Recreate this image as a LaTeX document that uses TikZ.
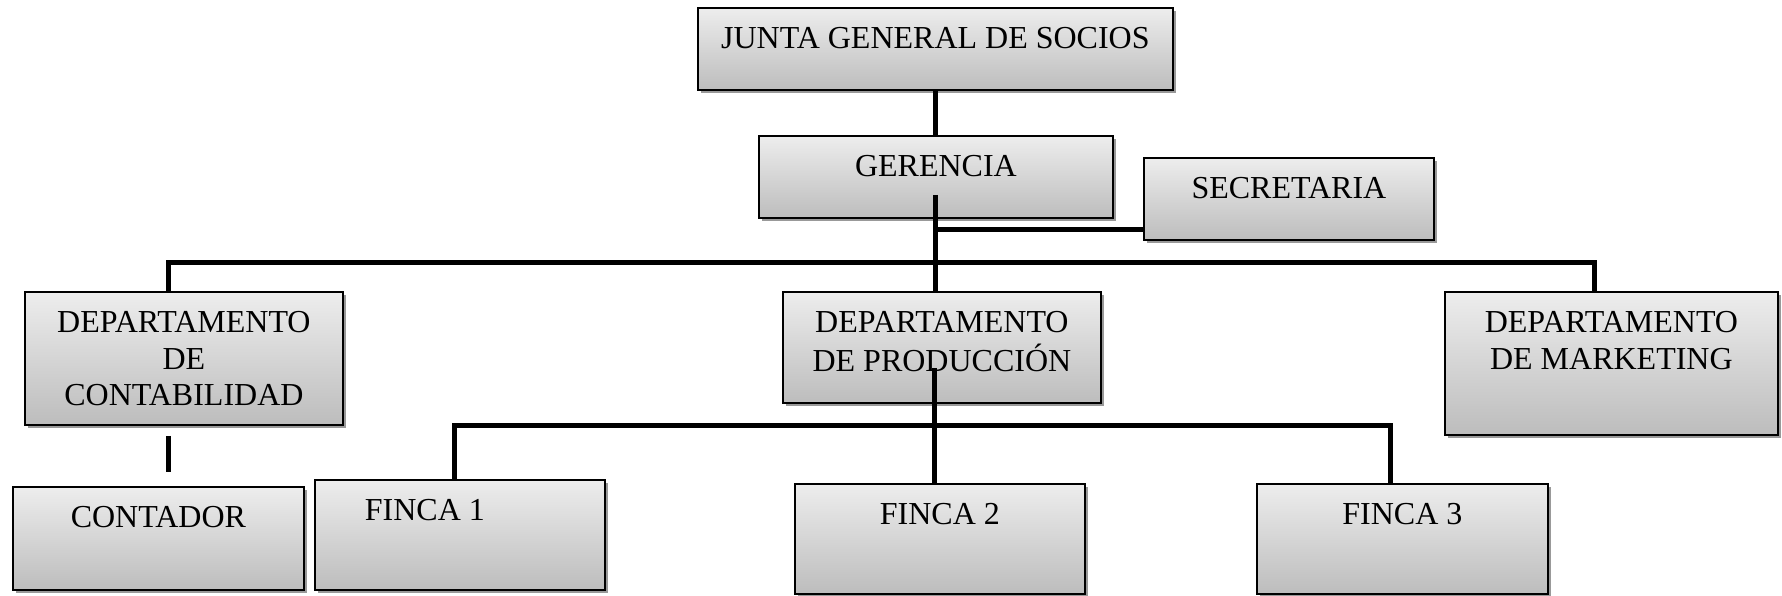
\documentclass[tikz,border=0pt]{standalone}
\usepackage{fontspec}
\setmainfont{Liberation Serif}
\usetikzlibrary{shadows,calc}
\newcommand\boxtext[1]{\begin{tabular}[t]{@{}c@{}}#1\end{tabular}}
\begin{document}
\begin{tikzpicture}[x=1pt,y=-1pt,
  orgbox/.style={draw=black, line width=1.8pt, top color=black!7, bottom color=black!26,
    drop shadow={shadow xshift=3pt, shadow yshift=-3pt, fill=black!40, opacity=1},
    inner sep=0pt, anchor=north west, text height=41pt,
    font=\fontsize{32}{36.5}\selectfont},
  conn/.style={line width=5pt}]
\useasboundingbox (0,0) rectangle (1782,596);

\node[orgbox, minimum width=475pt, minimum height=82pt, text depth=41pt] (junta) at (697,7) {\boxtext{JUNTA GENERAL DE SOCIOS}};
\node[orgbox, minimum width=354pt, minimum height=82pt, text depth=41pt] (ger) at (758,135) {\boxtext{GERENCIA}};
\node[orgbox, minimum width=290pt, minimum height=82pt, text depth=41pt] (sec) at (1143,157) {\boxtext{SECRETARIA}};
\node[orgbox, minimum width=318pt, minimum height=133pt, text depth=92pt] (conta) at (24,291) {\boxtext{DEPARTAMENTO\\DE\\CONTABILIDAD}};
\node[orgbox, minimum width=318pt, minimum height=111pt, text depth=70pt] (prod) at (782,291) {\boxtext{DEPARTAMENTO\\DE PRODUCCIÓN}};
\node[orgbox, minimum width=333pt, minimum height=143pt, text depth=102pt] (mkt) at (1444,291) {\boxtext{DEPARTAMENTO\\DE MARKETING}};
\node[orgbox, minimum width=291pt, minimum height=103pt, text depth=62pt] (contador) at (12,486) {\boxtext{CONTADOR}};
\node[orgbox, minimum width=290pt, minimum height=110pt, text depth=69pt] (f1) at (314,479) {\boxtext{FINCA 1\hspace*{70pt}}};
\node[orgbox, minimum width=290pt, minimum height=110pt, text depth=69pt] (f2) at (794,483) {\boxtext{FINCA 2}};
\node[orgbox, minimum width=291pt, minimum height=110pt, text depth=69pt] (f3) at (1256,483) {\boxtext{FINCA 3}};

% connectors
\draw[conn] (junta.south) -- (junta.south |- ger.north);
\coordinate (gin) at ($(ger.south)+(0,-24)$);
\draw[conn] (gin) -- (gin |- prod.north);
\coordinate (sin) at ($(sec.south west)+(0,-11)$);
\draw[conn] (gin |- sin) -- (sin);
\coordinate (ctop) at ($(conta.north west)+(144,0)$);
\coordinate (mtop) at ($(mkt.north west)+(150,0)$);
\draw[conn] (ctop) -- ++(0,-29) -| (mtop);
\coordinate (cbot) at ($(conta.south west)+(144,10)$);
\coordinate (ctr) at ($(contador.north west)+(156,-14)$);
\draw[conn] (cbot) -- (ctr);
\coordinate (pin) at ($(prod.north west)+(152,77)$);
\draw[conn] (pin) -- (pin |- f2.north);
\coordinate (f1top) at ($(f1.north west)+(140,0)$);
\coordinate (f3top) at ($(f3.north west)+(134,0)$);
\draw[conn] (f1top) -- ++(0,-54) -| (f3top);
\end{tikzpicture}
\end{document}
